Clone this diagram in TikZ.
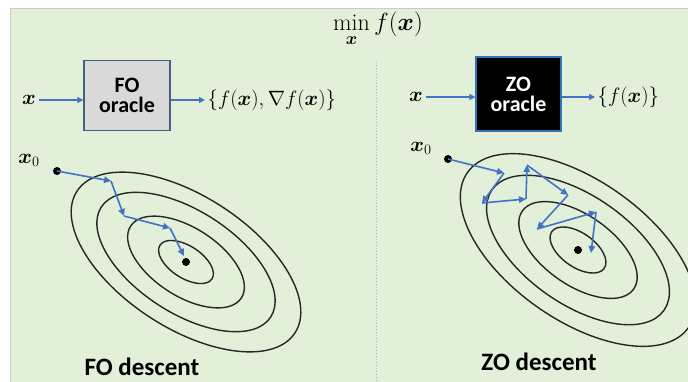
\documentclass[tikz,border=0pt]{standalone}
\usepackage{amsmath}
\usepackage{fontspec}
\setsansfont{Carlito}
\usetikzlibrary{arrows.meta, positioning}
\definecolor{leaf}{HTML}{E2F0D9}
\definecolor{framegray}{HTML}{C8CCC8}
\definecolor{officeblue}{HTML}{4472C4}
\definecolor{steel}{HTML}{44607F}
\definecolor{azure}{HTML}{2E75B6}
\definecolor{cloud}{HTML}{D9D9D9}
\definecolor{mist}{HTML}{A3B5C6}

\begin{document}
\begin{tikzpicture}[
    x=1pt, y=-1pt,
    >=Triangle,
    oracle/.style={
        draw=#1, line width=1.3pt, minimum width=86pt, minimum height=70pt,
        font=\sffamily\bfseries\fontsize{22}{23}\selectfont, align=center, inner sep=0pt
    },
    mathtxt/.style={font=\fontsize{22}{25}\selectfont, inner sep=2.5pt},
    caption/.style={font=\sffamily\bfseries\fontsize{25}{28}\selectfont, inner sep=0pt},
    flow/.style={-{Triangle[length=6pt, width=6pt]}, line width=1.3pt, color=officeblue},
    walk/.style={-{Triangle[length=7pt, width=6.5pt]}, line width=1.6pt, color=officeblue},
    contour/.style={draw=black!85, line width=1.4pt},
    dot/.style={circle, fill=black, inner sep=0pt, minimum size=8pt}
]
\useasboundingbox (0,0) rectangle (688,381);

% === Background ===
\fill[white] (0,0) rectangle (688,381);
\draw[framegray, fill=leaf, line width=0.8pt] (10,8) rectangle (690,383);
\draw[mist, dotted, line width=1pt] (376,62) -- (376,381);

% Objective
\node[mathtxt, font=\fontsize{24}{26}\selectfont, anchor=base] (goal) at (378,30) {$\min\limits_{\boldsymbol{x}} f(\boldsymbol{x})$};

% === Left panel: first-order oracle ===
\node[oracle=steel, fill=cloud] (fobox) at (127,95.5) {FO\\[-3pt]oracle};
\node[mathtxt] (foin) at (29,100) {$\boldsymbol{x}$};
\node[mathtxt, anchor=west] (foout) at (205,100) {$\{f(\boldsymbol{x}),\nabla f(\boldsymbol{x})\}$};

\draw[flow] (foin) -- (foin -| fobox.west);
\draw[flow] (foin -| fobox.east) -- (foout);

% Contours (left)
\coordinate (fomin) at (186,262);
\draw[contour, rotate around={-33:(fomin)}] (fomin) ellipse (130 and 66);
\draw[contour, rotate around={-33:(fomin)}] (fomin) ellipse (101 and 51);
\draw[contour, rotate around={-33:(fomin)}] (fomin) ellipse (66 and 34);
\draw[contour, rotate around={-33:(fomin)}] (fomin) ellipse (31 and 16);

% FO descent path
\node[dot] (fostart) at (57,171) {};
\node[mathtxt] (fox0) at (29,160) {$\boldsymbol{x}_0$};
\coordinate (fo1) at (111,181);
\coordinate (fo2) at (124,216);
\coordinate (fo3) at (170,228);
\coordinate (fo4) at (184,256);
\node[dot] (foend) at (fomin) {};

\draw[walk] (fostart.center) -- (fo1);
\draw[walk] (fo1) -- (fo2);
\draw[walk] (fo2) -- (fo3);
\draw[walk] (fo3) -- (fo4);

\node[caption] (focap) at (142,367) {FO descent};

% === Right panel: zeroth-order oracle ===
\node[oracle=azure, fill=black, text=white, minimum width=85pt, minimum height=74pt] (zobox) at (518.5,94) {ZO\\[-3pt]oracle};
\node[mathtxt] (zoin) at (416,97) {$\boldsymbol{x}$};
\node[mathtxt, anchor=west] (zoout) at (595,97) {$\{f(\boldsymbol{x})\}$};

\draw[flow] (zoin) -- (zoin -| zobox.west);
\draw[flow] (zoin -| zobox.east) -- (zoout);

% Contours (right)
\coordinate (zomin) at (578,250);
\draw[contour, rotate around={-35:(zomin)}] (zomin) ellipse (135 and 70);
\draw[contour, rotate around={-35:(zomin)}] (zomin) ellipse (105 and 54);
\draw[contour, rotate around={-35:(zomin)}] (zomin) ellipse (68 and 35);
\draw[contour, rotate around={-35:(zomin)}] (zomin) ellipse (32 and 17);

% ZO descent path (random directions)
\node[dot] (zostart) at (448,159) {};
\node[mathtxt] (zox0) at (421,148) {$\boldsymbol{x}_0$};
\coordinate (zo1) at (504,173);
\coordinate (zo2) at (482,203);
\coordinate (zo3) at (526,199);
\coordinate (zo4) at (527,165);
\coordinate (zo5) at (568,195);
\coordinate (zo6) at (537,229);
\coordinate (zo7) at (596,212);
\coordinate (zo8) at (591,253);
\node[dot] (zoend) at (zomin) {};

\draw[walk] (zostart.center) -- (zo1);
\draw[walk] (zo1) -- (zo2);
\draw[walk] (zo2) -- (zo3);
\draw[walk] (zo3) -- (zo4);
\draw[walk] (zo4) -- (zo5);
\draw[walk] (zo5) -- (zo6);
\draw[walk] (zo6) -- (zo7);
\draw[walk] (zo7) -- (zo8);

\node[caption] (zocap) at (539,362) {ZO descent};

\end{tikzpicture}
\end{document}
